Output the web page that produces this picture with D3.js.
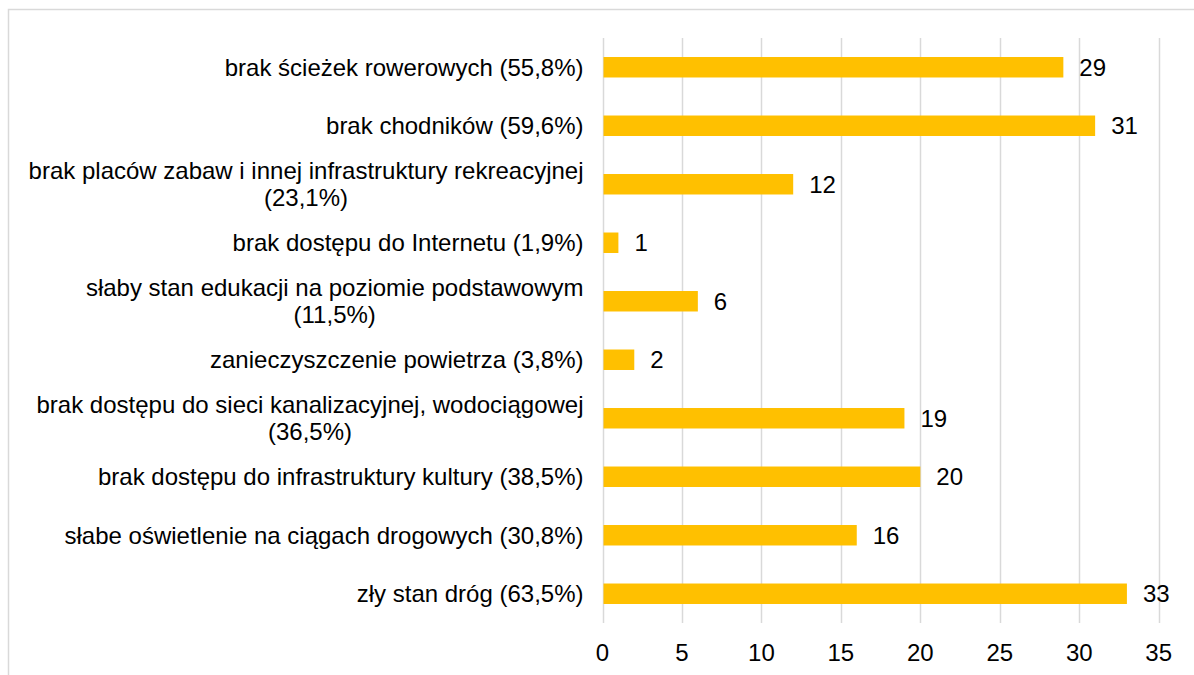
<!DOCTYPE html>
<html>
<head>
  <meta charset="UTF-8">
  <title>bar chart</title>
  <script src="https://cdnjs.cloudflare.com/ajax/libs/d3/7.8.5/d3.min.js"></script>
  <style>
    body { margin: 0; background: #fff; }
    text { font-family: "Liberation Sans", Arial, sans-serif; fill: #000; }
  </style>
</head>
<body>
<script>
  // categories top to bottom, line breaks as in the original
  var categories = [
    "brak ścieżek rowerowych (55,8%)",
    "brak chodników (59,6%)",
    "brak placów zabaw i innej infrastruktury rekreacyjnej\n(23,1%)",
    "brak dostępu do Internetu (1,9%)",
    "słaby stan edukacji na poziomie podstawowym\n(11,5%)",
    "zanieczyszczenie powietrza (3,8%)",
    "brak dostępu do sieci kanalizacyjnej, wodociągowej\n(36,5%)",
    "brak dostępu do infrastruktury kultury (38,5%)",
    "słabe oświetlenie na ciągach drogowych (30,8%)",
    "zły stan dróg (63,5%)"
  ];
  var values = [29, 31, 12, 1, 6, 2, 19, 20, 16, 33];
  var xTicks = [0, 5, 10, 15, 20, 25, 30, 35];

  var W = 1194, H = 675;
  var plotL = 602.5, plotR = 1158.7, plotT = 38, plotB = 623;
  var fs = 24;

  var svg = d3.select("body").append("svg")
    .attr("width", W).attr("height", H);

  // chart border (runs off the right / bottom edge)
  svg.append("rect")
    .attr("x", 8.5).attr("y", 9.5)
    .attr("width", W + 20).attr("height", H + 20)
    .attr("fill", "none").attr("stroke", "#d9d9d9").attr("stroke-width", 1.5);

  var x = d3.scaleLinear().domain([0, 35]).range([plotL, plotR]);
  var y = d3.scaleBand().domain(categories).range([plotT, plotB]).paddingInner(0.65).paddingOuter(0.325);

  // gridlines
  svg.selectAll("line.grid").data(xTicks).enter().append("line")
    .attr("class", "grid")
    .attr("x1", function(d) { return Math.round(x(d)) + 0.5; })
    .attr("x2", function(d) { return Math.round(x(d)) + 0.5; })
    .attr("y1", plotT).attr("y2", plotB)
    .attr("stroke", "#d9d9d9").attr("stroke-width", 1.5);

  // tick labels
  svg.selectAll("text.tick").data(xTicks).enter().append("text")
    .attr("class", "tick")
    .attr("x", function(d) { return x(d); })
    .attr("y", 653)
    .attr("dy", "0.35em")
    .attr("text-anchor", "middle")
    .style("font-size", fs + "px")
    .text(function(d) { return d; });

  // bars
  svg.selectAll("rect.bar").data(values).enter().append("rect")
    .attr("class", "bar")
    .attr("x", x(0) + 1)
    .attr("y", function(d, i) { return y(categories[i]); })
    .attr("width", function(d) { return x(d) - x(0) - 1; })
    .attr("height", y.bandwidth())
    .attr("fill", "#ffc000");

  // value labels
  svg.selectAll("text.val").data(values).enter().append("text")
    .attr("class", "val")
    .attr("x", function(d) { return x(d) + 16; })
    .attr("y", function(d, i) { return y(categories[i]) + y.bandwidth() / 2; })
    .attr("dy", "0.35em")
    .style("font-size", fs + "px")
    .text(function(d) { return d; });

  // category labels: block right-aligned, lines centred within the block
  svg.selectAll("g.cat").data(categories).enter().append("g")
    .attr("class", "cat")
    .each(function(d) {
      var lines = d.split("\n");
      var cy = y(d) + y.bandwidth() / 2;
      var lh = 27;
      var g = d3.select(this);
      var texts = lines.map(function(l, k) {
        return g.append("text")
          .attr("y", cy + (k - (lines.length - 1) / 2) * lh)
          .attr("dy", "0.35em")
          .attr("text-anchor", "middle")
          .style("font-size", fs + "px")
          .text(l);
      });
      var maxW = d3.max(texts, function(t) { return t.node().getComputedTextLength(); });
      texts.forEach(function(t) { t.attr("x", plotL - 19 - maxW / 2); });
    });
</script>
</body>
</html>
